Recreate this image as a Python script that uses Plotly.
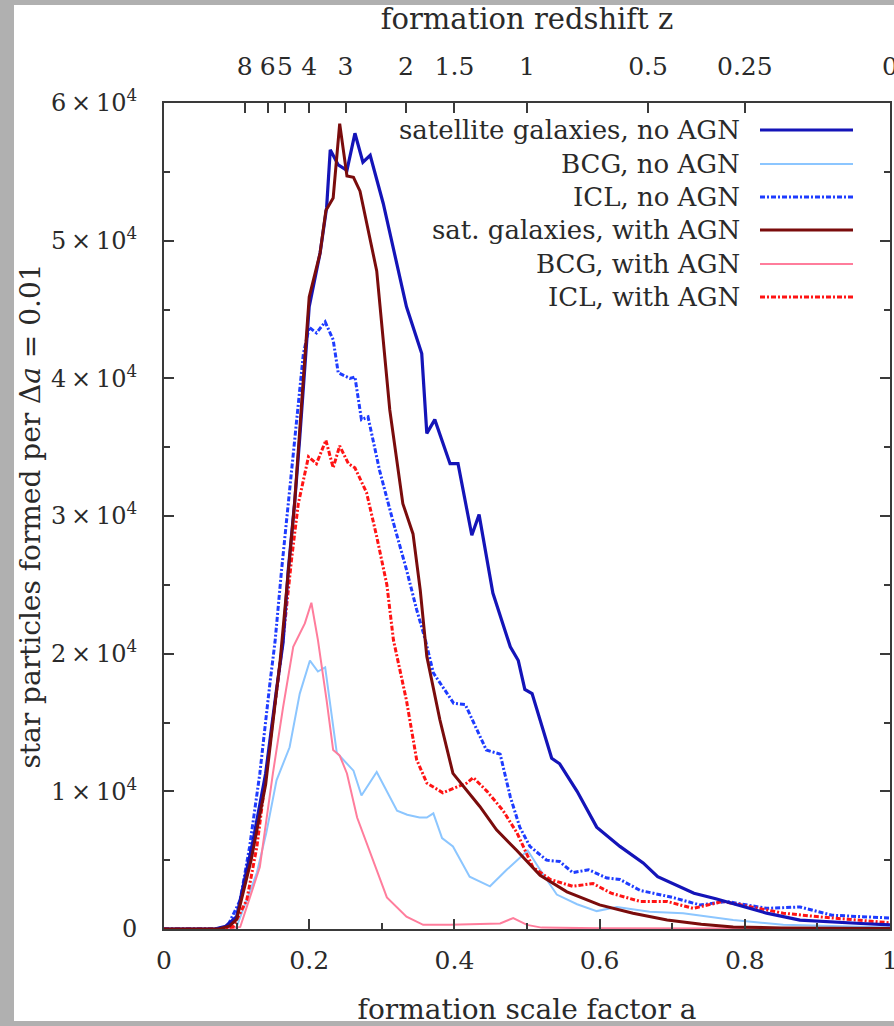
import plotly.graph_objects as go

# ---------------- data ----------------
sat_noagn_a = [0, 0.07, 0.085, 0.10, 0.123, 0.14, 0.155, 0.164, 0.171, 0.18, 0.187, 0.194, 0.20, 0.215, 0.224,
               0.229, 0.24, 0.252, 0.263, 0.274, 0.284, 0.302, 0.316, 0.334, 0.355, 0.362, 0.373, 0.394, 0.405,
               0.424, 0.434, 0.453, 0.477, 0.488, 0.497, 0.507, 0.534, 0.545, 0.569, 0.596, 0.628, 0.66, 0.68,
               0.73, 0.76, 0.80, 0.83, 0.876, 0.92, 0.96, 1.0]
sat_noagn_v = [0, 0, 200, 900, 6500, 11300, 17400, 20800, 26000, 31000, 35700, 40600, 45200, 49100, 52400,
               56600, 55500, 55100, 57800, 55700, 56200, 52700, 49300, 45200, 41800, 36000, 37000, 33800, 33800,
               28600, 30100, 24400, 20500, 19500, 17400, 17100, 12400, 12000, 10000, 7400, 6000, 4800, 3800,
               2600, 2200, 1600, 1150, 650, 500, 400, 300]

bcg_noagn_a = [0, 0.08, 0.10, 0.128, 0.141, 0.155, 0.173, 0.187, 0.201, 0.212, 0.222, 0.233, 0.238, 0.261,
               0.272, 0.293, 0.321, 0.335, 0.352, 0.362, 0.371, 0.383, 0.398, 0.421, 0.449, 0.472, 0.501, 0.518,
               0.541, 0.569, 0.596, 0.624, 0.669, 0.715, 0.784, 0.853, 1.0]
bcg_noagn_v = [0, 0, 150, 4100, 7000, 10800, 13200, 17100, 19500, 18700, 19000, 14900, 12800, 11500,
               9700, 11400, 8600, 8300, 8100, 8100, 8400, 6600, 6000, 3800, 3100, 4300, 5700, 4300,
               2500, 1800, 1300, 1600, 1250, 1150, 650, 300, 100]

icl_noagn_a = [0, 0.07, 0.087, 0.105, 0.118, 0.132, 0.146, 0.153, 0.162, 0.171, 0.178, 0.187, 0.192, 0.20,
               0.21, 0.222, 0.233, 0.24, 0.256, 0.263, 0.272, 0.281, 0.297, 0.315, 0.334, 0.348, 0.36, 0.371,
               0.399, 0.415, 0.444, 0.463, 0.477, 0.49, 0.504, 0.527, 0.545, 0.563, 0.585, 0.61, 0.628, 0.656,
               0.70, 0.738, 0.775, 0.83, 0.876, 0.92, 1.0]
icl_noagn_v = [0, 0, 150, 2100, 6000, 11300, 17900, 20900, 26100, 30900, 34600, 39400, 41800, 43700,
               43300, 44100, 42800, 40400, 40000, 40100, 37000, 37200, 33300, 29700, 26100, 23200, 21000, 18600,
               16400, 16300, 13000, 12700, 9600, 7400, 6000, 5000, 4900, 4100, 4300, 3700, 3600, 2800,
               2300, 1750, 2000, 1500, 1600, 1000, 800]

sat_agn_a = [0, 0.075, 0.09, 0.10, 0.12, 0.14, 0.16, 0.17, 0.18, 0.19, 0.20, 0.215, 0.223, 0.233, 0.242,
             0.252, 0.261, 0.27, 0.293, 0.311, 0.329, 0.343, 0.353, 0.362, 0.38, 0.398, 0.435, 0.458, 0.486,
             0.518, 0.555, 0.6, 0.646, 0.693, 0.74, 0.784, 0.85, 1.0]
sat_agn_v = [0, 0, 200, 700, 5000, 10500, 19500, 25500, 31000, 38500, 45900, 49100, 52200, 53100, 58500,
             54700, 54600, 53600, 47800, 37700, 30900, 28700, 24600, 19800, 15200, 11300, 8900, 7200, 5700,
             3900, 2700, 1750, 1150, 650, 350, 150, 80, 30]

bcg_agn_a = [0, 0.085, 0.105, 0.132, 0.15, 0.164, 0.178, 0.194, 0.203, 0.212, 0.224, 0.233, 0.242, 0.252,
             0.266, 0.284, 0.307, 0.334, 0.357, 0.394, 0.463, 0.481, 0.50, 0.52, 0.6, 1.0]
bcg_agn_v = [0, 0, 150, 4500, 11300, 16100, 20500, 22200, 23700, 21000, 16600, 13000, 12600, 11300,
             8100, 5500, 2300, 900, 300, 300, 400, 800, 300, 100, 50, 30]

icl_agn_a = [0, 0.075, 0.095, 0.114, 0.128, 0.141, 0.155, 0.164, 0.176, 0.185, 0.199, 0.21, 0.223, 0.233,
             0.242, 0.254, 0.263, 0.279, 0.293, 0.307, 0.316, 0.334, 0.348, 0.362, 0.384, 0.417, 0.426, 0.445,
             0.467, 0.486, 0.508, 0.532, 0.563, 0.591, 0.616, 0.656, 0.693, 0.729, 0.77, 0.811, 0.853, 0.899, 1.0]
icl_agn_v = [0, 0, 150, 2100, 6000, 11300, 17400, 21000, 27000, 30900, 34300, 33800, 35500, 33500,
             35100, 33800, 33500, 31700, 28500, 25000, 21000, 16600, 12300, 10600, 9900, 10600, 11000, 10000,
             8600, 7000, 4500, 3600, 3100, 3300, 2600, 2000, 2000, 1500, 2000, 1600, 1150, 900, 450]

series_names = ["satellite galaxies, no AGN", "BCG, no AGN", "ICL, no AGN",
                "sat. galaxies, with AGN", "BCG, with AGN", "ICL, with AGN"]

x_tickvals = [0, 0.2, 0.4, 0.6, 0.8, 1.0]
x_ticktext = ["0", "0.2", "0.4", "0.6", "0.8", "1"]
y_tickvals = [0, 10000, 20000, 30000, 40000, 50000, 60000]
y_ticktext = ["0", "1\u2009×\u200910<sup>4</sup>", "2\u2009×\u200910<sup>4</sup>", "3\u2009×\u200910<sup>4</sup>",
              "4\u2009×\u200910<sup>4</sup>", "5\u2009×\u200910<sup>4</sup>", "6\u2009×\u200910<sup>4</sup>"]
z_ticks = [8, 6, 5, 4, 3, 2, 1.5, 1, 0.5, 0.25, 0]
z_ticktext = ["8", "6", "5", "4", "3", "2", "1.5", "1", "0.5", "0.25", "0"]

# ---------------- styles ----------------
FONT = "DejaVu Serif"
TXT = "#2a2a2a"
AX = "#3a3a3a"
DD = "5px,2px,2px,2px"
styles = [
    dict(color="#1414b8", width=3.2, dash="solid"),
    dict(color="#8cc6ff", width=2.0, dash="solid"),
    dict(color="#1e3cff", width=3.0, dash=DD),
    dict(color="#7a0c0c", width=3.0, dash="solid"),
    dict(color="#ff7d9c", width=2.0, dash="solid"),
    dict(color="#ff1414", width=3.0, dash=DD),
]
data = [(sat_noagn_a, sat_noagn_v), (bcg_noagn_a, bcg_noagn_v), (icl_noagn_a, icl_noagn_v),
        (sat_agn_a, sat_agn_v), (bcg_agn_a, bcg_agn_v), (icl_agn_a, icl_agn_v)]

W, H = 894, 1026
L, R, T, B = 164, 4, 103, 97
PW, PH = W - L - R, H - T - B

def px(xp):
    return (xp - L) / PW

def py(yp):
    return (H - B - yp) / PH

fig = go.Figure()
order = [1, 4, 2, 5, 0, 3]
for i in order:
    a, v = data[i]
    fig.add_trace(go.Scatter(x=a, y=v, mode="lines", name=series_names[i],
                             line=styles[i], showlegend=False, hoverinfo="skip"))

# top redshift axis carrier (invisible)
z_a = [1.0 / (1.0 + z) for z in z_ticks]
fig.add_trace(go.Scatter(x=[0, 1], y=[0, 0], xaxis="x2", mode="lines",
                         line=dict(width=0), showlegend=False, hoverinfo="skip"))

tickfont = dict(family=FONT, size=25, color=TXT)
ytickfont = dict(family=FONT, size=24, color=TXT)
fig.update_layout(
    width=W, height=H,
    margin=dict(l=L, r=R, t=T, b=B, autoexpand=False),
    paper_bgcolor="#b0b0b0",
    plot_bgcolor="white",
    font=dict(family=FONT, color=TXT),
    xaxis=dict(range=[0, 1], tickvals=x_tickvals, ticktext=x_ticktext, tickangle=0,
               ticks="inside", ticklen=10, tickwidth=1.5, tickcolor=AX,
               minor=dict(dtick=0.1, ticks="inside", ticklen=6, tickwidth=1.5, tickcolor=AX),
               showgrid=False, zeroline=False, showline=True, linecolor=AX, linewidth=2,
               mirror=False, tickfont=tickfont, ticklabelstandoff=8, ticklabeloverflow="allow",
               title=dict(text="formation scale factor a", font=dict(family=FONT, size=28, color=TXT),
                          standoff=26)),
    xaxis2=dict(overlaying="x", side="top", range=[0, 1], tickvals=z_a, ticktext=z_ticktext, tickangle=0,
                ticks="inside", ticklen=10, tickwidth=1.5, tickcolor=AX,
                showgrid=False, zeroline=False, showline=True, linecolor=AX, linewidth=2,
                tickfont=tickfont, ticklabelstandoff=16, ticklabeloverflow="allow",
                title=dict(text="formation redshift z", font=dict(family=FONT, size=29, color=TXT),
                           standoff=14)),
    yaxis=dict(range=[0, 60000], tickvals=y_tickvals, ticktext=y_ticktext,
               ticks="inside", ticklen=10, tickwidth=1.5, tickcolor=AX,
               minor=dict(dtick=5000, ticks="inside", ticklen=6, tickwidth=1.5, tickcolor=AX),
               showgrid=False, zeroline=False, showline=True, linecolor=AX, linewidth=2,
               mirror="ticks", tickfont=ytickfont, ticklabelstandoff=20,
               title=dict(text="star particles formed per Δ<i>a</i> = 0.01",
                          font=dict(family=FONT, size=28, color=TXT), standoff=2)),
)

# white page panel over the gray frame
fig.add_shape(type="rect", xref="paper", yref="paper", layer="below",
              x0=px(14), x1=px(W + 2), y0=py(1021), y1=py(5),
              fillcolor="white", line=dict(width=0))

# legend (gnuplot style: text right-aligned, sample on the right)
rows_y = [130, 164, 197, 230, 264, 297]
for i, yr in enumerate(rows_y):
    fig.add_annotation(xref="paper", yref="paper", x=px(742), y=py(yr), xanchor="right", yanchor="middle",
                       text=series_names[i], showarrow=False,
                       font=dict(family=FONT, size=26, color=TXT))
    st = styles[i]
    fig.add_shape(type="line", xref="paper", yref="paper", x0=px(760), x1=px(853), y0=py(yr), y1=py(yr),
                  line=dict(color=st["color"], width=st["width"], dash=st["dash"]))

fig.write_html("out.html", config={"displayModeBar": False},
               post_script="document.body.style.margin='0px';document.body.style.background='#b0b0b0';")
